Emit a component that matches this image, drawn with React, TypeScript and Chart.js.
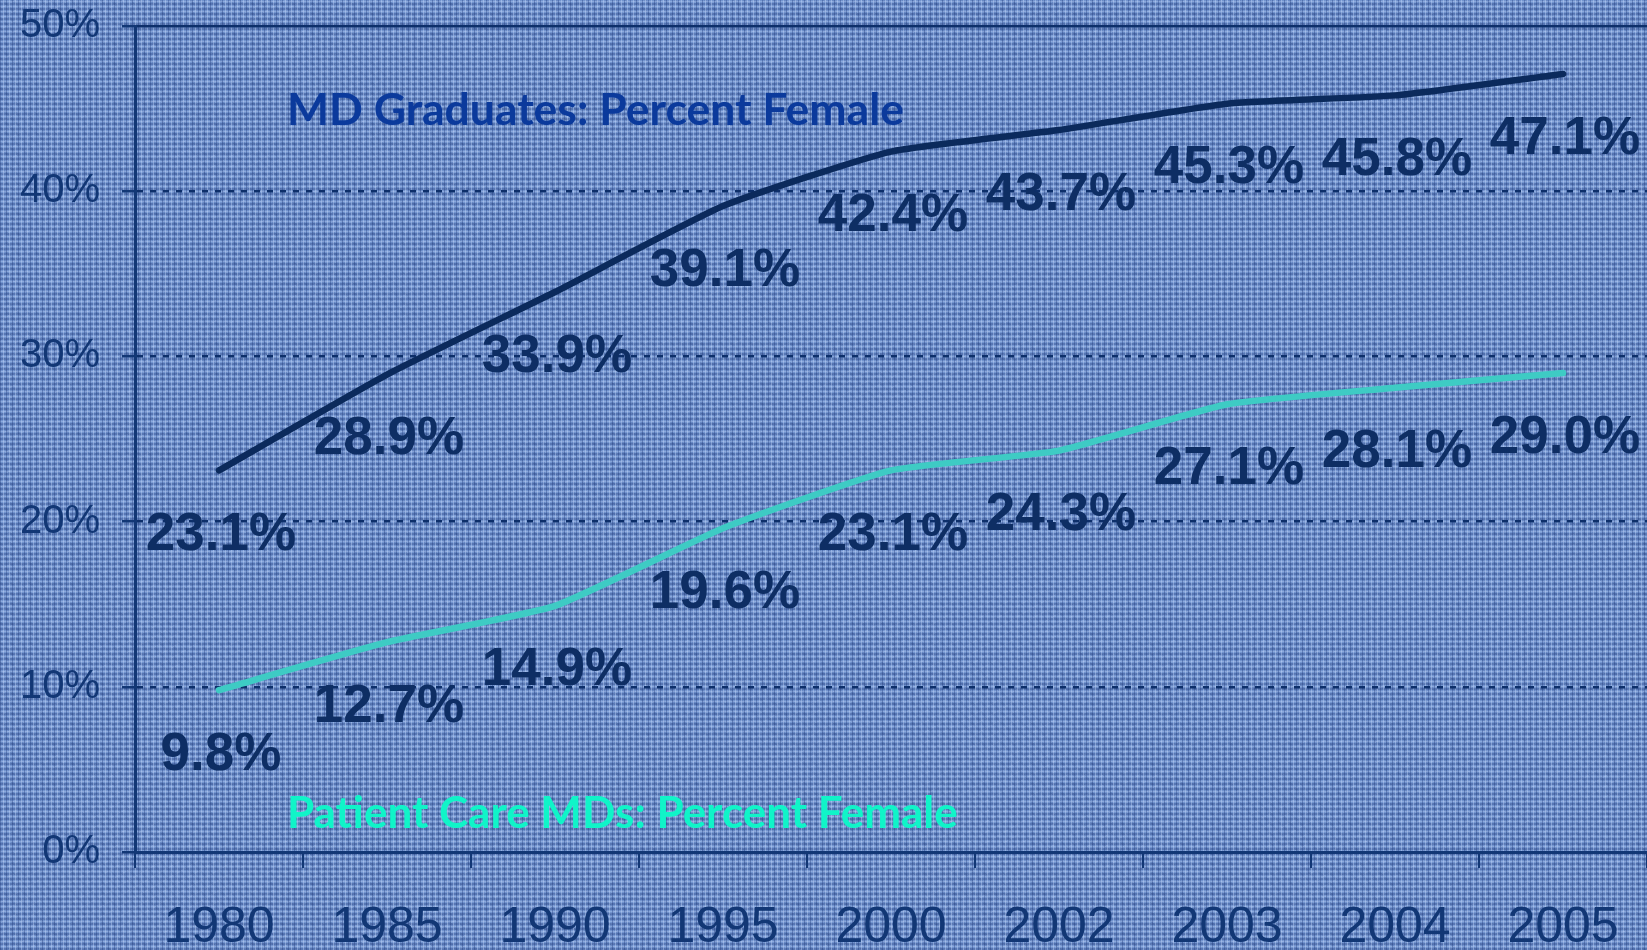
import React, { useEffect, useRef } from "react";
import { Chart, registerables } from "chart.js";

Chart.register(...registerables);

const years = ["1980", "1985", "1990", "1995", "2000", "2002", "2003", "2004", "2005"];
const mdGraduates = [23.1, 28.9, 33.9, 39.1, 42.4, 43.7, 45.3, 45.8, 47.1];
const patientCare = [9.8, 12.7, 14.9, 19.6, 23.1, 24.3, 27.1, 28.1, 29.0];
const yTicks = [0, 10, 20, 30, 40, 50];
const mdTitle = "MD Graduates: Percent Female";
const pcTitle = "Patient Care MDs: Percent Female";

const AXIS = "#123775";
const LABEL = "#0e2e64";

const labelPlugin = {
  id: "valueLabels",
  afterDatasetsDraw(chart: any) {
    const ctx = chart.ctx;
    ctx.save();
    ctx.font = "bold 53px 'Liberation Sans', Arial, sans-serif";
    ctx.fillStyle = LABEL;
    ctx.textAlign = "center";
    ctx.textBaseline = "middle";
    chart.data.datasets.forEach((ds: any, di: number) => {
      const meta = chart.getDatasetMeta(di);
      meta.data.forEach((pt: any, i: number) => {
        const v = ds.data[i];
        ctx.fillText(v.toFixed(1) + "%", pt.x + 2, pt.y + 65);
      });
    });
    // series titles
    const area = chart.chartArea;
    const ys = chart.scales.y;
    ctx.textAlign = "left";
    ctx.fillStyle = "#0b3a9c";
    ctx.font = "bold 44.5px Lato, 'Open Sans', sans-serif";
    ctx.fillText(mdTitle, area.left + 152, ys.getPixelForValue(44.9));
    ctx.fillStyle = "#10f4c8";
    ctx.font = "bold 44px Lato, 'Open Sans', sans-serif";
    ctx.fillText(pcTitle, area.left + 152, ys.getPixelForValue(2.3));
    ctx.restore();
  },
};

export default function App() {
  const ref = useRef<HTMLCanvasElement | null>(null);
  useEffect(() => {
    document.body.style.margin = "0";
    document.body.style.overflow = "hidden";
    const chart = new Chart(ref.current as HTMLCanvasElement, {
      type: "line",
      data: {
        labels: years,
        datasets: [
          {
            label: mdTitle,
            data: mdGraduates,
            borderColor: "#0b2a5c",
            borderWidth: 6.5,
            pointRadius: 0,
            tension: 0.15,
            borderCapStyle: "round",
            borderJoinStyle: "round",
            fill: false,
          },
          {
            label: pcTitle,
            data: patientCare,
            borderColor: "#3ecbc4",
            borderWidth: 6.5,
            pointRadius: 0,
            tension: 0.15,
            borderCapStyle: "round",
            borderJoinStyle: "round",
            fill: false,
          },
        ],
      },
      options: {
        animation: false,
        responsive: true,
        maintainAspectRatio: false,
        layout: { padding: { top: 26, right: -4, left: 0, bottom: 0 } },
        plugins: { legend: { display: false }, tooltip: { enabled: false }, title: { display: false } },
        scales: {
          x: {
            type: "category",
            offset: true,
            afterFit: (s: any) => {
              s.height = 98;
              s.paddingLeft = 0;
              s.paddingRight = 0;
            },
            grid: {
              offset: true,
              drawOnChartArea: false,
              drawTicks: true,
              tickLength: 16,
              color: AXIS,
              lineWidth: 2,
            },
            border: { display: true, color: AXIS, width: 3 },
            ticks: {
              color: AXIS,
              font: { family: "'Liberation Sans', Arial, sans-serif", size: 50 },
              padding: 30,
              maxRotation: 0,
              autoSkip: false,
            },
          },
          y: {
            min: 0,
            max: 50,
            afterFit: (s: any) => {
              s.width = 135;
              s.paddingTop = 0;
              s.paddingBottom = 0;
            },
            afterBuildTicks: (s: any) => {
              s.ticks = yTicks.map((v) => ({ value: v }));
            },
            grid: {
              color: "#0d2f6a",
              lineWidth: 2.5,
              drawTicks: true,
              tickLength: 13,
              tickColor: AXIS,
            },
            border: {
              display: true,
              color: AXIS,
              width: 3,
              dash: (c: any) => (c.tick && (c.tick.value === 50 || c.tick.value === 0) ? [] : [6, 7]),
            },
            ticks: {
              color: AXIS,
              font: { family: "'Liberation Sans', Arial, sans-serif", size: 40 },
              padding: 22,
              callback: (v: any) => v + "%",
            },
          },
        },
      },
      plugins: [labelPlugin],
    } as any);
    return () => chart.destroy();
  }, []);

  const bg: React.CSSProperties = {
    width: 1647,
    height: 950,
    position: "relative",
    overflow: "hidden",
    backgroundColor: "#7294cf",
    backgroundImage:
      "repeating-linear-gradient(90deg, rgba(25,50,115,0.35) 0px, rgba(25,50,115,0.35) 1px, transparent 1px, transparent 3px, rgba(200,220,255,0.4) 3px, rgba(200,220,255,0.4) 4px, transparent 4px, transparent 6px)," +
      "repeating-linear-gradient(0deg, rgba(25,50,115,0.3) 0px, rgba(25,50,115,0.3) 2px, transparent 2px, transparent 3px, rgba(200,220,255,0.3) 3px, rgba(200,220,255,0.3) 4px, transparent 4px, transparent 5px)," +
      "repeating-linear-gradient(45deg, rgba(30,55,120,0.12) 0px, rgba(30,55,120,0.12) 2px, transparent 2px, transparent 7px)," +
      "repeating-linear-gradient(-30deg, rgba(210,225,255,0.12) 0px, rgba(210,225,255,0.12) 1px, transparent 1px, transparent 9px)",
  };

  return (
    <div style={bg}>
      <canvas ref={ref} />
    </div>
  );
}
